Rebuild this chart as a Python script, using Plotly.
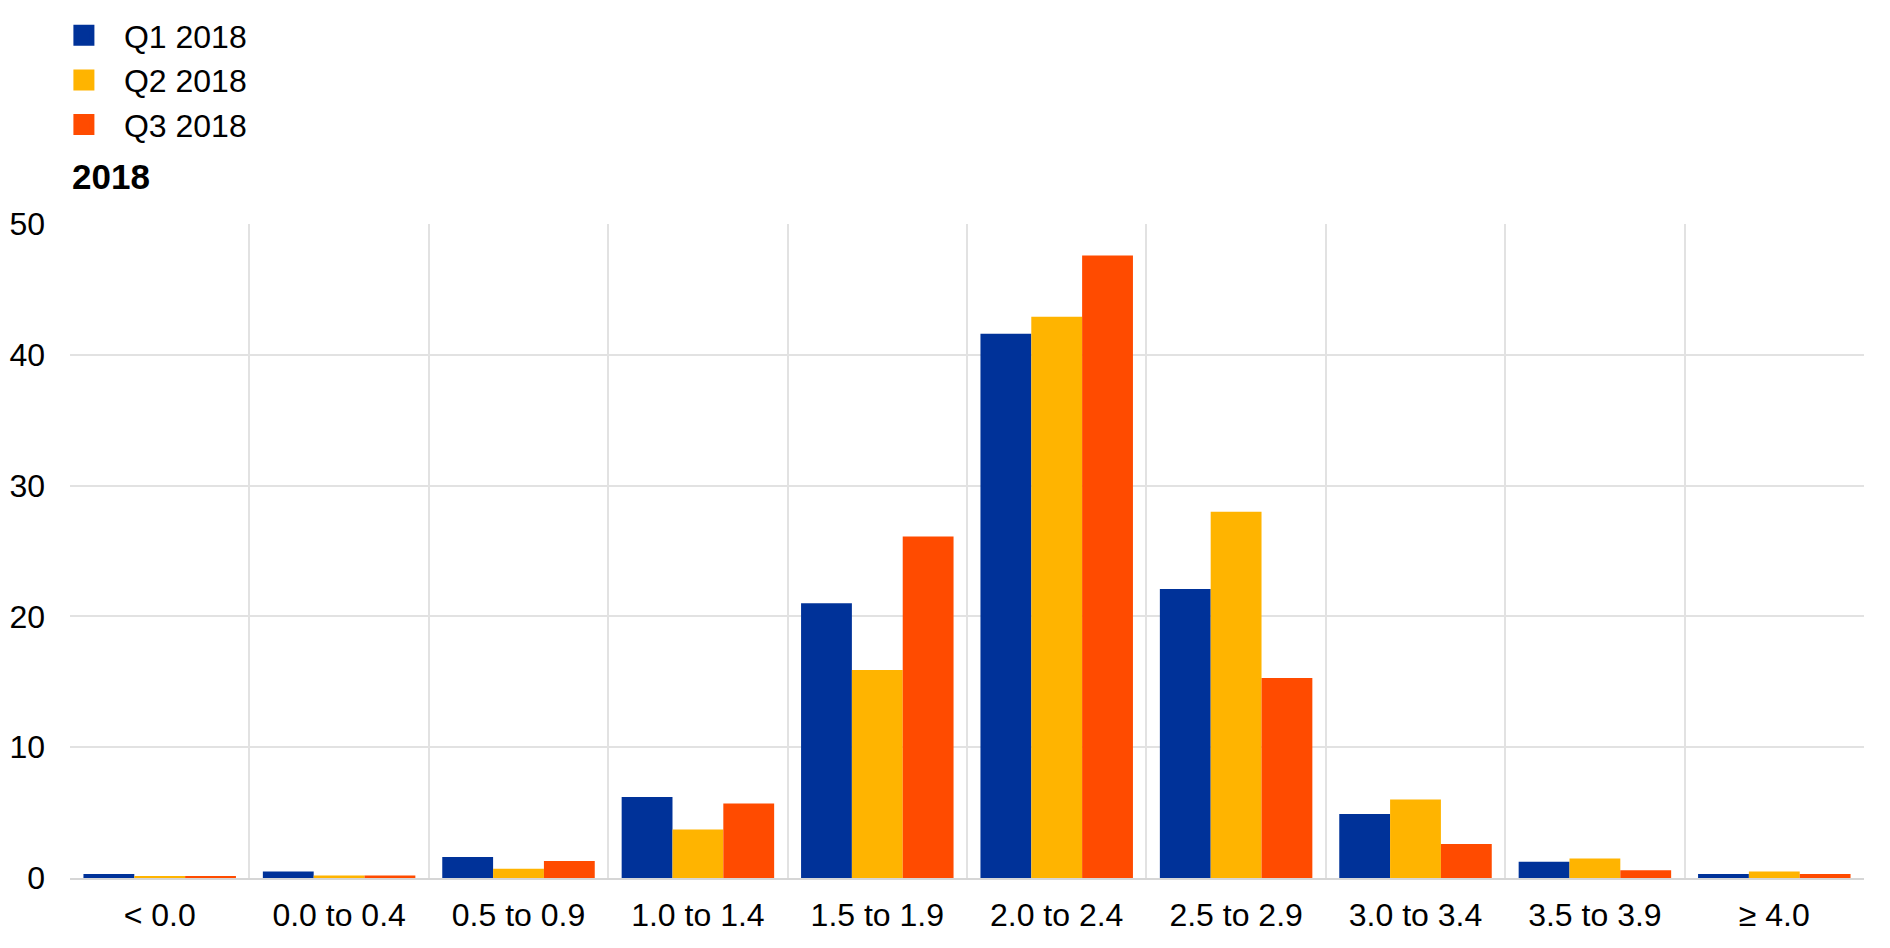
import plotly.graph_objects as go

categories = ["< 0.0", "0.0 to 0.4", "0.5 to 0.9", "1.0 to 1.4", "1.5 to 1.9",
              "2.0 to 2.4", "2.5 to 2.9", "3.0 to 3.4", "3.5 to 3.9", "≥ 4.0"]
q1_2018 = [0.3, 0.5, 1.6, 6.2, 21.0, 41.6, 22.1, 4.9, 1.25, 0.3]
q2_2018 = [0.15, 0.2, 0.7, 3.7, 15.9, 42.9, 28.0, 6.0, 1.5, 0.5]
q3_2018 = [0.1, 0.2, 1.3, 5.7, 26.1, 47.6, 15.3, 2.6, 0.6, 0.3]
series_names = ["Q1 2018", "Q2 2018", "Q3 2018"]
colors = ["#003299", "#FFB400", "#FF4B00"]
y_ticks = [0, 10, 20, 30, 40, 50]

FONT = "Liberation Sans, Arial, sans-serif"

fig = go.Figure()
for name, vals, col in zip(series_names, [q1_2018, q2_2018, q3_2018], colors):
    fig.add_trace(go.Bar(x=categories, y=vals, name=name, marker_color=col,
                         marker_line_width=0, showlegend=False))
    fig.add_trace(go.Scatter(x=[None], y=[None], mode="markers", name=name,
                             marker=dict(symbol="square", size=16, color=col,
                                         line=dict(color=col, width=5)),
                             showlegend=True))

fig.update_layout(
    width=1890, height=948,
    margin=dict(l=62, r=34, t=216, b=78, autoexpand=False),
    paper_bgcolor="white", plot_bgcolor="white",
    barmode="group", bargap=0.15, bargroupgap=0,
    font=dict(family=FONT, size=31, color="black"),
    legend=dict(xref="container", yref="container", x=0.019, y=1.0,
                xanchor="left", yanchor="top", font=dict(size=32),
                tracegroupgap=0, itemwidth=70, bgcolor="rgba(0,0,0,0)"),
    title=dict(text="<b>2018</b>", xref="container", yref="container",
               x=64/1890, y=1-169/948, xanchor="left", yanchor="middle",
               font=dict(size=35, family=FONT, color="black")),
    xaxis=dict(type="category", tickson="boundaries", showgrid=True,
               gridcolor="#e2e2e2", gridwidth=1.5, ticks="",
               showline=True, linecolor="#d6d6d6", linewidth=2,
               ticklabelstandoff=8, tickfont=dict(size=32),
               range=[-0.5, 9.5]),
    yaxis=dict(range=[0, 50], tickvals=y_ticks, showgrid=True,
               gridcolor="#e2e2e2", gridwidth=1.5, zeroline=False,
               ticks="", ticklabelstandoff=24, tickfont=dict(size=32),
               showline=False),
)

fig.write_html("out.html")
